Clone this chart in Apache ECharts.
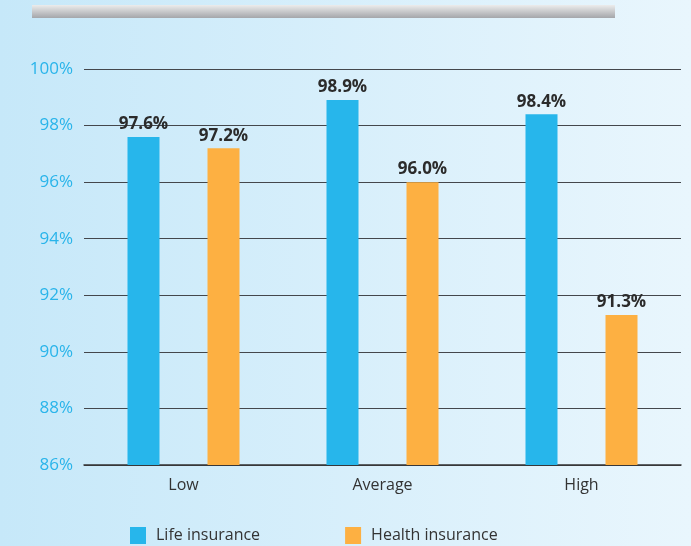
<!DOCTYPE html>
<html>
<head>
<meta charset="utf-8">
<script src="https://cdn.jsdelivr.net/npm/echarts@6/dist/echarts.min.js"></script>
<style>
  html, body { margin: 0; padding: 0; }
  #chart { width: 691px; height: 546px; }
</style>
</head>
<body>
<div id="chart"></div>
<script>
// Renewal rates by premium level
const categories = ['Low', 'Average', 'High'];
const lifeInsurance = [97.6, 98.9, 98.4];
const healthInsurance = [97.2, 96.0, 91.3];
const seriesNames = ['Life insurance', 'Health insurance'];

const chart = echarts.init(document.getElementById('chart'));
const font = '"Open Sans", "Noto Sans", sans-serif';

const valueLabel = {
  show: true,
  position: 'top',
  distance: 4,
  fontFamily: font,
  fontSize: 17,
  fontWeight: 'bold',
  color: '#2b2b2b',
  formatter: p => p.value.toFixed(1) + '%'
};

chart.setOption({
  backgroundColor: new echarts.graphic.LinearGradient(0, 0, 1, 0, [
    { offset: 0, color: '#c6e8f9' },
    { offset: 1, color: '#e9f6fd' }
  ]),
  graphic: [{
    type: 'rect',
    shape: { x: 32, y: 5, width: 583, height: 13 },
    style: {
      fill: new echarts.graphic.LinearGradient(0, 0, 0, 1, [
        { offset: 0, color: '#ececec' },
        { offset: 1, color: '#a4a6aa' }
      ])
    }
  }],
  grid: { left: 84, right: 10, top: 69, bottom: 81 },
  legend: {
    left: 130,
    top: 527,
    padding: 0,
    itemWidth: 16,
    itemHeight: 17,
    itemGap: 85,
    icon: 'rect',
    textStyle: { fontFamily: font, fontSize: 16, color: '#333', padding: [0, 0, 0, 5] },
    data: seriesNames
  },
  xAxis: {
    type: 'category',
    data: categories,
    axisTick: { show: false },
    axisLine: { lineStyle: { color: '#333', width: 1.5 } },
    axisLabel: { fontFamily: font, fontSize: 16, color: '#333', margin: 12 }
  },
  yAxis: {
    type: 'value',
    min: 86,
    max: 100,
    interval: 2,
    axisLine: { show: false },
    axisTick: { show: false },
    axisLabel: {
      fontFamily: font, fontSize: 17, color: '#29b4ea', margin: 11,
      formatter: v => v + '%'
    },
    splitLine: { lineStyle: { color: '#44474c', width: 1.2 } }
  },
  series: [
    {
      name: seriesNames[0],
      type: 'bar',
      data: lifeInsurance,
      barWidth: 32,
      barGap: '150%',
      itemStyle: { color: '#27b6eb' },
      label: valueLabel
    },
    {
      name: seriesNames[1],
      type: 'bar',
      data: healthInsurance,
      barWidth: 32,
      barGap: '150%',
      itemStyle: { color: '#fdb042' },
      label: valueLabel
    }
  ]
});
</script>
</body>
</html>
